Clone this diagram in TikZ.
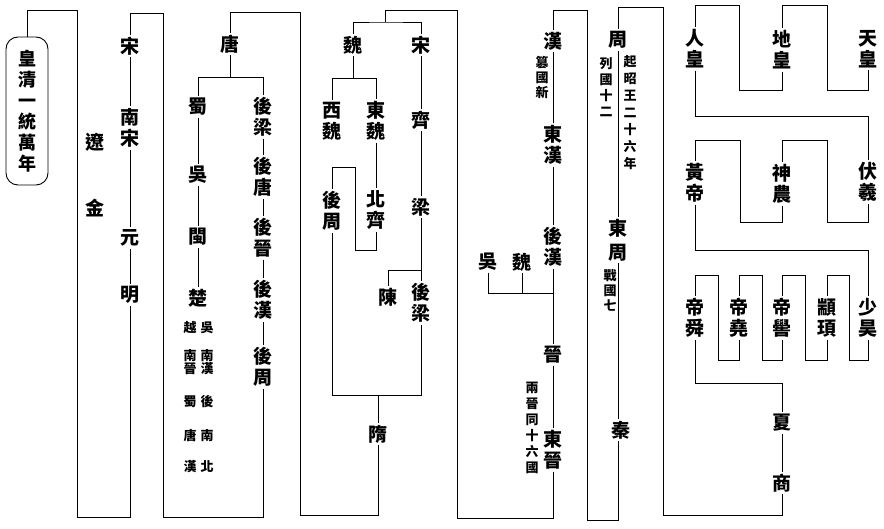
\documentclass[tikz,border=0pt]{standalone}
\usepackage{fontspec}
\newfontfamily\cjk{Noto Sans CJK TC}
\begin{document}
\begin{tikzpicture}[x=1pt,y=-1pt,
  big/.style={font=\cjk\bfseries\fontsize{19}{21}\selectfont, align=center, inner sep=2pt},
  sm/.style={font=\cjk\bfseries\fontsize{13}{16}\selectfont, align=center, inner sep=1pt},
  ln/.style={line width=0.9pt}]
\useasboundingbox[fill=white] (0,0) rectangle (884,529);

% ---------- right section ----------
\node[big] (tian) at (868,49) {天\\皇};
\node[big] (di) at (782,50) {地\\皇};
\node[big] (ren) at (695,49) {人\\皇};
\node[big] (fuxi) at (868,182) {伏\\羲};
\node[big] (shennong) at (782,184) {神\\農};
\node[big] (huangdi) at (695,183) {黃\\帝};
\node[big] (shaohao) at (868,318) {少\\昊};
\node[big] (zhuanxu) at (827,318) {顓\\頊};
\node[big] (diku) at (782,318) {帝\\嚳};
\node[big] (diyao) at (739,318) {帝\\堯};
\node[big] (dishun) at (695,318) {帝\\舜};
\node[big] (xia) at (782,423) {夏};
\node[big] (shang) at (782,483) {商};

\draw[ln] (tian.south) |- (827,90) -- (827,5) -| (di.north);
\draw[ln] (di.south) |- (739,90) -- (739,5) -| (ren.north);
\draw[ln] (ren.south) |- (868,116) -- (fuxi.north);
\draw[ln] (fuxi.south) |- (827,222) -- (827,140) -| (shennong.north);
\draw[ln] (shennong.south) |- (740,222) -- (740,140) -| (huangdi.north);
\draw[ln] (huangdi.south) |- (868,250) -- (shaohao.north);
\draw[ln] (shaohao.south) |- (849,360) -- (849,275) -| (zhuanxu.north);
\draw[ln] (zhuanxu.south) |- (805,360) -- (805,275) -| (diku.north);
\draw[ln] (diku.south) |- (762,360) -- (762,275) -| (diyao.north);
\draw[ln] (diyao.south) |- (718,360) -- (718,275) -| (dishun.north);
\draw[ln] (dishun.south) |- (782,383) -- (xia.north);
\draw[ln] (xia.south) -- (shang.north);

% ---------- Zhou ----------
\node[big] (zhou) at (618,40) {周};
\node[sm, font=\cjk\bfseries\fontsize{13}{17}\selectfont] (zhouR) at (630,113) {起\\昭\\王\\二\\十\\六\\年};
\node[sm] (zhouL) at (606,87) {列\\國\\十\\二};
\node[big] (dongzhou) at (618,240) {東\\[3pt]周};
\node[sm, font=\cjk\bfseries\fontsize{13}{15}\selectfont] (zhanguo) at (610,290) {戰\\國\\七};
\node[big] (qin) at (621,430) {秦};

\draw[ln] (shang.south) |- (663,515) -- (663,7) -| (zhou.north);
\draw[ln] (zhou.south) -- (dongzhou.north);
\draw[ln] (dongzhou.south) -- (dongzhou.south |- qin.north);

% ---------- Han ----------
\node[big] (han) at (553,41) {漢};
\node[sm, font=\cjk\bfseries\fontsize{13}{15}\selectfont] (cuan) at (542,77) {篡\\國\\新};
\node[big] (donghan) at (553,145) {東\\漢};
\node[big] (houhan) at (553,247) {後\\漢};
\node[big] (wu) at (488,262) {吳};
\node[big] (wei) at (522,262) {魏};
\node[big] (jin) at (553,355) {晉};
\node[big] (dongjin) at (553,450) {東\\晉};
\node[sm] (liangjin) at (532,428) {兩\\晉\\同\\十\\六\\國};
\coordinate (j1) at (553,293);

\draw[ln] (qin.south -| dongzhou.south) |- (587,520) -- (587,10) -| (han.north);
\draw[ln] (han.south) -- (donghan.north);
\draw[ln] (donghan.south) -- (houhan.north);
\draw[ln] (houhan.south) -- (jin.north);
\draw[ln] (wu.south) |- (j1);
\draw[ln] (wei.south) -- (wei.south |- j1);
\draw[ln] (jin.south) -- (dongjin.north);

% ---------- Song / Wei ----------
\node[big] (wei2) at (353,45) {魏};
\node[big] (song2) at (421,45) {宋};
\node[big] (xiwei) at (332,121) {西\\魏};
\node[big] (dongwei) at (376,121) {東\\魏};
\node[big] (beiqi) at (376,210) {北\\齊};
\node[big] (houzhou2) at (332,211) {後\\周};
\node[big] (qi) at (421,120) {齊};
\node[big] (liang) at (421,207) {梁};
\node[big] (chen) at (388,297) {陳};
\node[big] (houliang2) at (421,303) {後\\梁};
\node[big] (sui) at (378,434) {隋};
\coordinate (j2) at (385,22);
\coordinate (j3) at (378,395);

\draw[ln] (dongjin.south) |- (457,518) -- (457,10) -| (j2);
\draw[ln] (wei2.north) |- (j2) -| (song2.north);
\draw[ln] (wei2.south) -- (353,78);
\draw[ln] (xiwei.north) |- (376,78) -- (dongwei.north);
\draw[ln] (dongwei.south) -- (beiqi.north);
\draw[ln] (beiqi.south) |- (355,250) -- (355,167) -| (houzhou2.north);
\draw[ln] (song2.south) -- (qi.north);
\draw[ln] (qi.south) -- (liang.north);
\draw[ln] (liang.south) -- (houliang2.north);
\draw[ln] (chen.north) |- (421,270);
\draw[ln] (houzhou2.south) |- (421,395) -- (houliang2.south);
\draw[ln] (j3) -- (sui.north);

% ---------- Tang ----------
\node[big] (tang) at (230,44) {唐};
\node[big] (shu) at (198,107) {蜀};
\node[big] (wu2) at (198,175) {吳};
\node[big] (min) at (198,237) {閩};
\node[big] (chu) at (198,298) {楚};
\node[big] (houliang) at (263,117) {後\\梁};
\node[big] (houtang) at (263,177) {後\\唐};
\node[big] (houjin) at (263,238) {後\\晉};
\node[big] (houhan2) at (263,300) {後\\漢};
\node[big] (houzhou) at (263,367) {後\\周};
\node[sm] (s1l) at (190,328) {越};
\node[sm] (s1r) at (207,328) {吳};
\node[sm, font=\cjk\bfseries\fontsize{13}{13}\selectfont] (s2l) at (190,362) {南\\晉};
\node[sm, font=\cjk\bfseries\fontsize{13}{13}\selectfont] (s2r) at (207,362) {南\\漢};
\node[sm] (s3l) at (190,402) {蜀};
\node[sm] (s3r) at (207,402) {後};
\node[sm] (s4l) at (190,436) {唐};
\node[sm] (s4r) at (207,436) {南};
\node[sm] (s5l) at (190,467) {漢};
\node[sm] (s5r) at (207,467) {北};
\coordinate (j4) at (230,77);

\draw[ln] (sui.south) |- (300,515) -- (300,12) -| (tang.north);
\draw[ln] (tang.south) -- (j4);
\draw[ln] (shu.north) |- (263,77) -- (houliang.north);
\draw[ln] (shu.south) -- (wu2.north);
\draw[ln] (wu2.south) -- (min.north);
\draw[ln] (min.south) -- (chu.north);
\draw[ln] (houliang.south) -- (houtang.north);
\draw[ln] (houtang.south) -- (houjin.north);
\draw[ln] (houjin.south) -- (houhan2.north);
\draw[ln] (houhan2.south) -- (houzhou.north);

% ---------- Song ----------
\node[big] (song) at (130,46) {宋};
\node[big] (nansong) at (130,128) {南\\宋};
\node[big] (yuan) at (130,238) {元};
\node[big] (ming) at (130,295) {明};
\node[big] (liao) at (95,142) {遼};
\node[big] (jin2) at (95,208) {金};
\node[draw, ln, rounded corners=12pt, minimum width=42pt, minimum height=148pt,
      inner sep=0pt, align=center, font=\cjk\bfseries\fontsize{18}{21}\selectfont]
      (box) at (27,111) {皇\\清\\一\\統\\萬\\年};

\draw[ln] (houzhou.south) |- (163,517) -- (163,13) -| (song.north);
\draw[ln] (song.south) -- (nansong.north);
\draw[ln] (nansong.south) -- (yuan.north);
\draw[ln] (yuan.south) -- (ming.north);
\draw[ln] (ming.south) |- (77,517) -- (77,10) -| (box.north);
\end{tikzpicture}
\end{document}
